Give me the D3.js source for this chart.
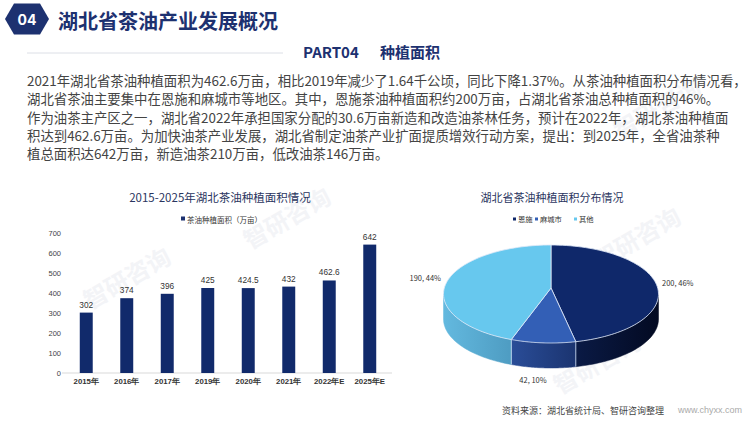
<!DOCTYPE html>
<html><head><meta charset="utf-8">
<script src="https://cdn.jsdelivr.net/npm/d3@7/dist/d3.min.js"></script>
<style>
html,body{margin:0;padding:0;background:#fff;}
svg{display:block;font-family:"Noto Sans CJK SC","Noto Sans",sans-serif;}
</style></head>
<body>
<svg id="c" width="750" height="422"></svg>
<script>
// ---------- data ----------
const pageTitle = "湖北省茶油产业发展概况";
const badgeText = "04";
const partLabel = "PART04";
const partTitle = "种植面积";
const paragraphLines = [
  "2021年湖北省茶油种植面积为462.6万亩，相比2019年减少了1.64千公顷，同比下降1.37%。从茶油种植面积分布情况看，",
  "湖北省茶油主要集中在恩施和麻城市等地区。其中，恩施茶油种植面积约200万亩，占湖北省茶油总种植面积的46%。",
  "作为油茶主产区之一，湖北省2022年承担国家分配的30.6万亩新造和改造油茶林任务，预计在2022年，湖北茶油种植面",
  "积达到462.6万亩。为加快油茶产业发展，湖北省制定油茶产业扩面提质增效行动方案，提出：到2025年，全省油茶种",
  "植总面积达642万亩，新造油茶210万亩，低改油茶146万亩。"
];
const barTitle = "2015-2025年湖北茶油种植面积情况";
const barSeriesName = "茶油种植面积（万亩）";
const barCategories = ["2015年","2016年","2017年","2019年","2020年","2021年","2022年E","2025年E"];
const barValues = [302, 374, 396, 425, 424.5, 432, 462.6, 642];
const barValueLabels = ["302","374","396","425","424.5","432","462.6","642"];
const yTicks = [0,100,200,300,400,500,600,700];

const pieTitle = "湖北省茶油种植面积分布情况";
const pieCategories = ["恩施","麻城市","其他"];
const pieValues = [200, 42, 190];
const piePercentLabels = ["46%","10%","44%"];
const sourceText = "资料来源：湖北省统计局、智研咨询整理";
const siteText = "www.chyxx.com";

// ---------- drawing ----------
const svg = d3.select("#c");
const navy = "#1d3170";

// faint watermarks
const wm = svg.append("g").attr("fill","#f3f4f7").attr("font-size",24).attr("font-weight",700);
[[90,310],[250,250],[620,140],[560,395],[600,270]].forEach(p=>{
  wm.append("text").attr("transform",`translate(${p[0]},${p[1]}) rotate(-30)`).text("智研咨询");
});

// header badge (hexagon)
const hex = d3.line()([[5,19],[14,3.5],[40,3.5],[49,19],[40,34.5],[14,34.5]]) + "Z";
svg.append("path").attr("d",hex).attr("fill",navy);
svg.append("text").attr("x",27).attr("y",19.5).attr("text-anchor","middle").attr("dominant-baseline","central")
  .attr("fill","#fff").attr("font-size",14).attr("font-weight",700).attr("font-family","Inter, 'Noto Sans', sans-serif").text(badgeText);
svg.append("text").attr("x",58).attr("y",20).attr("dominant-baseline","central")
  .attr("fill",navy).attr("font-size",20).attr("font-weight",700).text(pageTitle);

svg.append("line").attr("x1",27).attr("x2",283).attr("y1",53).attr("y2",53).attr("stroke","#dcdfe6").attr("stroke-width",1);
svg.append("text").attr("x",303).attr("y",51).attr("dominant-baseline","central")
  .attr("fill",navy).attr("font-size",15).attr("font-weight",700).text(partLabel);
svg.append("text").attr("x",380).attr("y",51).attr("dominant-baseline","central")
  .attr("fill",navy).attr("font-size",15).attr("font-weight",700).text(partTitle);

// paragraph
svg.append("g").selectAll("text").data(paragraphLines).join("text")
  .attr("x",27).attr("y",(d,i)=>80 + i*18.3).attr("dominant-baseline","central")
  .attr("fill","#444").attr("font-size",13.4).text(d=>d);

// ---------- bar chart ----------
svg.append("text").attr("x",220).attr("y",197).attr("text-anchor","middle").attr("dominant-baseline","central")
  .attr("fill","#2a3560").attr("font-size",11.5).text(barTitle);
svg.append("rect").attr("x",181).attr("y",216.5).attr("width",4).attr("height",4).attr("fill",navy);
svg.append("text").attr("x",187).attr("y",219).attr("dominant-baseline","central")
  .attr("fill","#333").attr("font-size",7.5).text(barSeriesName);

const x = d3.scaleBand().domain(barCategories).range([66,390]).paddingInner(0.68).paddingOuter(0.34);
const y = d3.scaleLinear().domain([0,700]).range([373,233]);

const yAx = svg.append("g").attr("transform","translate(63,0)")
  .call(d3.axisLeft(y).tickValues(yTicks).tickSize(0).tickPadding(2).tickFormat(d3.format("d")));
yAx.select(".domain").remove();
yAx.selectAll("text").attr("fill","#444").attr("font-size",7.5).attr("font-family","'Liberation Sans',Arial,sans-serif");

svg.append("line").attr("x1",62).attr("x2",392).attr("y1",373).attr("y2",373).attr("stroke","#d9d9d9");
const xAx = svg.append("g").attr("transform","translate(0,373)")
  .call(d3.axisBottom(x).tickSize(0).tickPadding(5));
xAx.select(".domain").remove();
xAx.selectAll("text").attr("fill","#333").attr("font-size",7.8).attr("font-weight",700);

svg.append("g").selectAll("rect").data(barValues).join("rect")
  .attr("x",(d,i)=>x(barCategories[i])).attr("width",x.bandwidth())
  .attr("y",d=>y(d)).attr("height",d=>y(0)-y(d)).attr("fill","#112a6b");
svg.append("g").selectAll("text").data(barValues).join("text")
  .attr("x",(d,i)=>x(barCategories[i])+x.bandwidth()/2).attr("y",d=>y(d)-8)
  .attr("text-anchor","middle").attr("dominant-baseline","central")
  .attr("fill","#333").attr("font-size",8.3).attr("font-family","'Liberation Sans',Arial,sans-serif")
  .text((d,i)=>barValueLabels[i]);

// ---------- 3D pie ----------
svg.append("text").attr("x",552).attr("y",197).attr("text-anchor","middle").attr("dominant-baseline","central")
  .attr("fill","#2a3560").attr("font-size",11).text(pieTitle);

const pieTop = ["#0f286a","#335fb6","#67c8ee"];
const sideStops = [["#0a1a45","#030a22"],["#2a4d98","#1b3470"],["#63b9df","#4e9cc2"]];

const lg = svg.append("g");
const legendX = [513,535,574];
pieCategories.forEach((c,i)=>{
  lg.append("rect").attr("x",legendX[i]).attr("y",217.5).attr("width",3).attr("height",3).attr("fill",pieTop[i]);
  lg.append("text").attr("x",legendX[i]+5).attr("y",219).attr("dominant-baseline","central")
    .attr("fill","#333").attr("font-size",7.3).text(c);
});

const cx = 551, cy = 294, rx = 107.5, ry = 49, depth = 25;
const apex = [551, 288];
const arcs = d3.pie().sort(null).value(d=>d)(pieValues);
const P = (a,dy=0)=>[cx + rx*Math.sin(a), cy - ry*Math.cos(a) + dy];

const defs = svg.append("defs");
sideStops.forEach((s,i)=>{
  const g = defs.append("linearGradient").attr("id","sg"+i).attr("x1","0").attr("x2","1").attr("y1","0").attr("y2","0");
  g.append("stop").attr("offset","0").attr("stop-color",s[0]);
  g.append("stop").attr("offset","1").attr("stop-color",s[1]);
});

const pg = svg.append("g");
const line = d3.line();
arcs.forEach((a,i)=>{
  const s = Math.max(a.startAngle, Math.PI/2), e = Math.min(a.endAngle, 3*Math.PI/2);
  if (e <= s) return;
  const n = 40, top = [], bot = [];
  for (let k=0;k<=n;k++){ const t = s + (e-s)*k/n; top.push(P(t)); bot.push(P(t,depth)); }
  pg.append("path").attr("d", line(top.concat(bot.reverse()))+"Z")
    .attr("fill",`url(#sg${i})`).attr("stroke",`url(#sg${i})`).attr("stroke-width",0.5);
});
arcs.forEach((a,i)=>{
  const t = a.endAngle;
  if (t > Math.PI/2 && t < 3*Math.PI/2){
    const p1 = P(t), p2 = P(t,depth);
    pg.append("line").attr("x1",p1[0]).attr("y1",p1[1]).attr("x2",p2[0]).attr("y2",p2[1]).attr("stroke","#cfe0f5").attr("stroke-width",0.8);
  }
});
arcs.forEach((a,i)=>{
  const n = 80, pts = [apex];
  for (let k=0;k<=n;k++){ const t = a.startAngle + (a.endAngle-a.startAngle)*k/n; pts.push(P(t)); }
  pg.append("path").attr("d", line(pts)+"Z").attr("fill",pieTop[i])
    .attr("stroke","#dfe9f7").attr("stroke-width",0.8).attr("stroke-linejoin","round");
});

const pieLabelPos = [[662,282,"start"],[533,379,"middle"],[441,277,"end"]];
arcs.forEach((a,i)=>{
  svg.append("text").attr("x",pieLabelPos[i][0]).attr("y",pieLabelPos[i][1]).attr("text-anchor",pieLabelPos[i][2])
    .attr("dominant-baseline","central").attr("fill","#333").attr("font-size",7.5)
    .text(`${pieValues[i]}, ${piePercentLabels[i]}`);
});

svg.append("text").attr("x",502).attr("y",410).attr("dominant-baseline","central")
  .attr("fill","#444").attr("font-size",9).text(sourceText);
svg.append("text").attr("x",742).attr("y",410).attr("text-anchor","end").attr("dominant-baseline","central")
  .attr("fill","#aaa").attr("font-size",9).attr("font-family","'Liberation Sans',Arial,sans-serif").text(siteText);
</script>
</body></html>
